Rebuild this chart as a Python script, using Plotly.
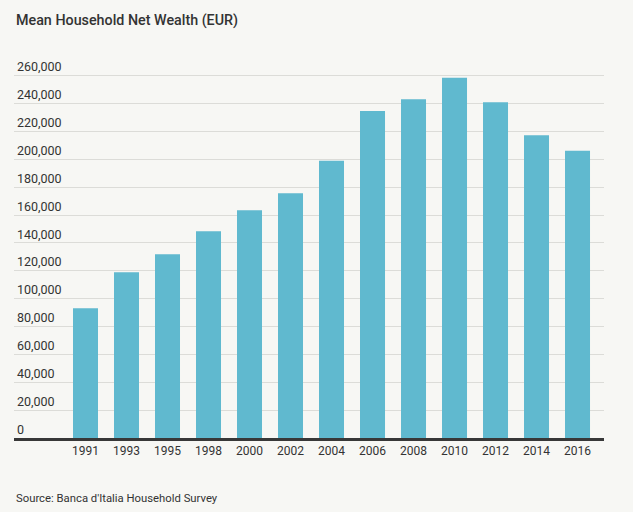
import plotly.graph_objects as go

years = ["1991", "1993", "1995", "1998", "2000", "2002", "2004", "2006", "2008", "2010", "2012", "2014", "2016"]
wealth = [93100, 119000, 131900, 148400, 163500, 175700, 198900, 234600, 243200, 258500, 241000, 217300, 206100]
y_ticks = list(range(0, 260001, 20000))
y_tick_text = [f"{v:,}" for v in y_ticks]

FONT = "Roboto, Liberation Sans, sans-serif"
TXT = "#333333"
BG = "#f7f7f4"

fig = go.Figure()
fig.add_trace(go.Bar(x=years, y=wealth, marker=dict(color="#60b9cf", line=dict(width=0)),
                     hoverinfo="x+y"))

fig.update_layout(
    width=633, height=512,
    paper_bgcolor=BG, plot_bgcolor=BG,
    margin=dict(l=14, r=29, t=59, b=74),
    showlegend=False,
    bargap=0.39,
    font=dict(family=FONT, color=TXT, size=12.5),
    xaxis=dict(
        type="category", range=[-1.744, 12.646],
        showgrid=False, showline=True, linecolor="#383838", linewidth=2.5,
        ticks="", tickfont=dict(size=12, color=TXT), zeroline=False,
    ),
    yaxis=dict(
        range=[0, 272000], tickvals=y_ticks, ticktext=y_tick_text,
        ticklabelposition="inside top", showgrid=True, gridcolor="#dcdcd8", gridwidth=1.2,
        zeroline=False, showline=False, ticks="", tickfont=dict(size=12.5, color=TXT),
    ),
    annotations=[
        dict(text="Mean Household Net Wealth (EUR)", xref="paper", yref="paper",
             x=0, y=(438 - 20) / 379, xanchor="left", yanchor="middle", showarrow=False,
             font=dict(size=14.3, color=TXT, family=FONT, weight=500)),
        dict(text="Source: Banca d'Italia Household Survey", xref="paper", yref="paper",
             x=0, y=(438 - 498) / 379, xanchor="left", yanchor="middle", showarrow=False,
             font=dict(size=11.3, color=TXT, family=FONT)),
    ],
)

fig.write_html(
    "out.html",
    config={"displayModeBar": False},
    post_script="document.body.style.margin='0';document.body.style.background='#f7f7f4';",
)
